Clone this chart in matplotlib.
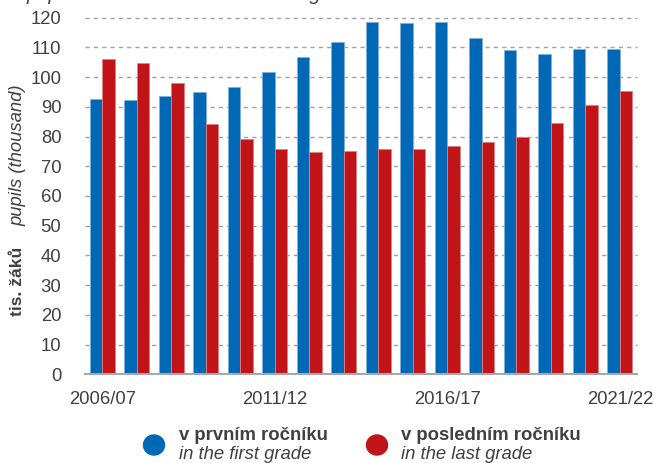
import matplotlib
matplotlib.use("Agg")
import matplotlib.pyplot as plt
from matplotlib.patches import Ellipse
import numpy as np

years = ["2006/07", "2007/08", "2008/09", "2009/10", "2010/11", "2011/12", "2012/13",
         "2013/14", "2014/15", "2015/16", "2016/17", "2017/18", "2018/19", "2019/20",
         "2020/21", "2021/22"]
first_grade = [92.6, 92.3, 93.6, 94.9, 96.6, 101.6, 106.8, 111.9, 118.5, 118.1, 118.4,
               113.1, 109.2, 107.8, 109.5, 109.5]
last_grade = [106.1, 104.6, 97.9, 84.2, 79.1, 75.7, 74.7, 75.2, 75.7, 75.9, 76.7,
              78.2, 79.8, 84.5, 90.5, 95.3]
yticks = list(range(0, 121, 10))
shown_labels = ["2006/07", "2011/12", "2016/17", "2021/22"]

BLUE = "#0068b4"
RED = "#c01418"
TXT = "#404040"

plt.rcParams["font.family"] = ["Liberation Sans", "DejaVu Sans"]

W, H = 657, 463
fig = plt.figure(figsize=(W / 100, H / 100), dpi=100)
ax = fig.add_axes([85 / W, (H - 374.4) / H, (637 - 85) / W, (374.4 - 17.6) / H])

x = np.arange(len(years))
bw = 0.362
ax.bar(x - bw / 2, first_grade, width=bw, color=BLUE, edgecolor="#7fb0dc",
       linewidth=0.6, zorder=3)
ax.bar(x + bw / 2, last_grade, width=bw, color=RED, edgecolor="#e08080",
       linewidth=0.6, zorder=3)

ax.set_xlim(-0.5, len(years) - 0.5)
ax.set_ylim(0, 120)
ax.set_yticks(yticks)
ax.set_yticklabels([str(v) for v in yticks], fontsize=13.3, color=TXT)
ax.set_xticks([years.index(l) for l in shown_labels])
ax.set_xticklabels(shown_labels, fontsize=13.3, color=TXT)
ax.tick_params(axis="y", length=0, pad=17)
ax.tick_params(axis="x", length=0, pad=12)

for v in yticks[1:]:
    ax.axhline(v, color="#97a3ae", linewidth=1.0, linestyle=(0, (3, 3)), zorder=1,
               clip_on=False)

for s in ["top", "right", "left"]:
    ax.spines[s].set_visible(False)
ax.spines["bottom"].set_color("#a0aab4")
ax.spines["bottom"].set_linewidth(1.5)
ax.spines["bottom"].set_zorder(4)

# y-axis label (single rotated line: bold Czech + italic English)
fig.text(18 / W, 1 - 281 / H, "tis. žáků", rotation=90, ha="center", va="center",
         fontsize=12.5, fontweight="bold", color=TXT)
fig.text(18 / W, 1 - 155 / H, "pupils (thousand)", rotation=90, ha="center",
         va="center", fontsize=13.3, fontstyle="italic", color=TXT)

# clipped subtitle at very top (only descenders visible in the reference)
fig.text(26 / W, 1 - 0.5 / H, "pupils in the first and in the last grade of basic schools",
         ha="left", va="baseline", fontsize=14.5, fontstyle="italic", color=TXT)

# legend
for cx, col in [(154, BLUE), (377, RED)]:
    fig.add_artist(Ellipse((cx / W, 1 - 445 / H), 21 / W, 20 / H, color=col,
                           transform=fig.transFigure))
fig.text(179 / W, 1 - 440 / H, "v prvním ročníku", ha="left", va="baseline",
         fontsize=13.3, fontweight="bold", color=TXT)
fig.text(179 / W, 1 - 459 / H, "in the first grade", ha="left", va="baseline",
         fontsize=13.3, fontstyle="italic", color=TXT)
fig.text(401 / W, 1 - 440 / H, "v posledním ročníku", ha="left", va="baseline",
         fontsize=13.3, fontweight="bold", color=TXT)
fig.text(401 / W, 1 - 459 / H, "in the last grade", ha="left", va="baseline",
         fontsize=13.3, fontstyle="italic", color=TXT)

fig.savefig("out.png", dpi=100)
